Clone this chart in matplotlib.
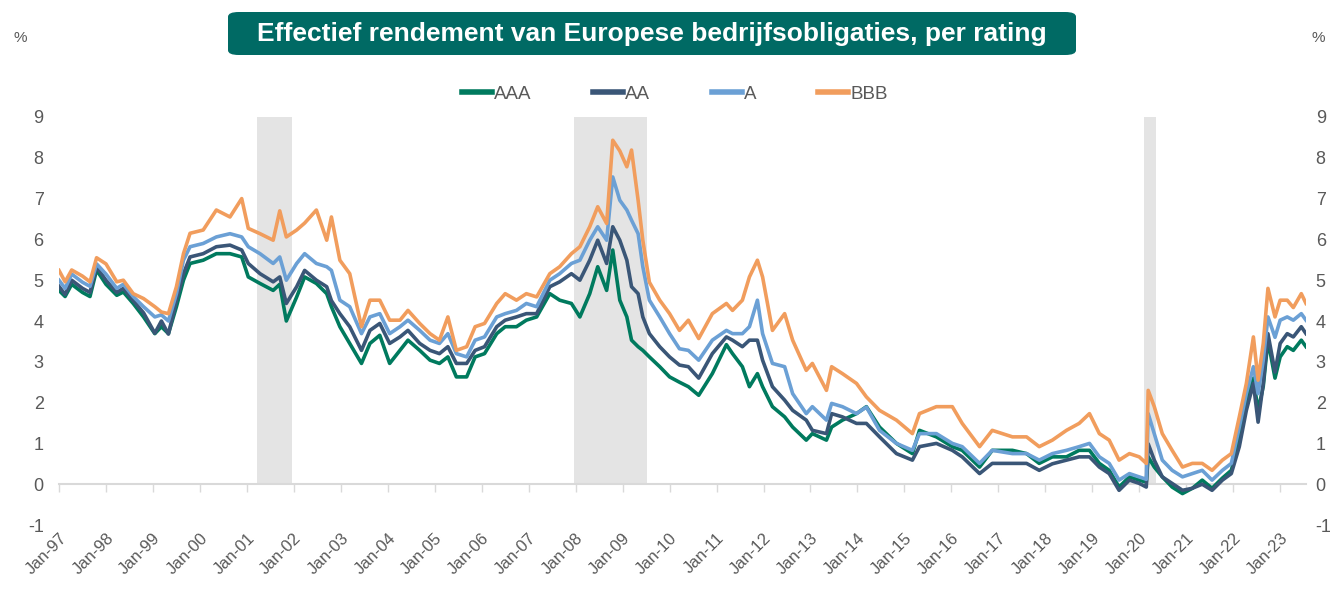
import matplotlib.pyplot as plt
from matplotlib.patches import FancyBboxPatch

plt.rcParams['font.family'] = ['Liberation Sans', 'DejaVu Sans']
plt.rcParams['axes.unicode_minus'] = False

# tijdas (decimale jaren) en rendementen per rating
jaren = [1997.00, 1997.13, 1997.27, 1997.50, 1997.66, 1997.80, 1998.00, 1998.23, 1998.37, 1998.58,
         1998.80, 1999.04, 1999.18, 1999.33, 1999.50, 1999.65, 1999.79, 2000.07, 2000.35, 2000.64,
         2000.89, 2001.03, 2001.28, 2001.56, 2001.70, 2001.84, 2002.06, 2002.23, 2002.48, 2002.70,
         2002.80, 2002.98, 2003.19, 2003.44, 2003.62, 2003.83, 2004.04, 2004.26, 2004.43, 2004.68,
         2004.90, 2005.10, 2005.28, 2005.46, 2005.68, 2005.86, 2006.06, 2006.32, 2006.50, 2006.74,
         2006.95, 2007.17, 2007.45, 2007.66, 2007.91, 2008.09, 2008.30, 2008.47, 2008.66, 2008.79,
         2008.94, 2009.09, 2009.19, 2009.33, 2009.43, 2009.57, 2009.79, 2010.00, 2010.21, 2010.40,
         2010.62, 2010.91, 2011.21, 2011.34, 2011.55, 2011.70, 2011.87, 2011.98, 2012.19, 2012.45,
         2012.62, 2012.91, 2013.04, 2013.34, 2013.45, 2013.68, 2013.98, 2014.19, 2014.47, 2014.83,
         2015.17, 2015.32, 2015.68, 2016.02, 2016.23, 2016.60, 2016.87, 2017.30, 2017.60, 2017.87,
         2018.15, 2018.45, 2018.72, 2018.94, 2019.15, 2019.36, 2019.57, 2019.79, 2020.00, 2020.15,
         2020.19, 2020.32, 2020.49, 2020.70, 2020.92, 2021.13, 2021.34, 2021.55, 2021.77, 2021.96,
         2022.13, 2022.28, 2022.43, 2022.53, 2022.64, 2022.74, 2022.89, 2023.00, 2023.15, 2023.28,
         2023.45, 2023.55]

aaa = [4.75, 4.60, 4.90, 4.70, 4.60, 5.25, 4.90, 4.63, 4.71, 4.43,
       4.10, 3.69, 3.86, 3.69, 4.35, 5.00, 5.41, 5.49, 5.65, 5.65,
       5.57, 5.08, 4.92, 4.75, 4.90, 4.00, 4.59, 5.08, 4.92, 4.67,
       4.35, 3.86, 3.45, 2.96, 3.45, 3.65, 2.96, 3.28, 3.53, 3.28,
       3.04, 2.96, 3.12, 2.63, 2.63, 3.12, 3.20, 3.69, 3.86, 3.86,
       4.02, 4.10, 4.67, 4.51, 4.43, 4.10, 4.67, 5.33, 4.75, 5.74,
       4.51, 4.10, 3.53, 3.37, 3.28, 3.12, 2.88, 2.63, 2.50, 2.39,
       2.18, 2.71, 3.42, 3.20, 2.88, 2.39, 2.71, 2.39, 1.90, 1.65,
       1.40, 1.08, 1.24, 1.08, 1.40, 1.57, 1.73, 1.90, 1.40, 1.00,
       0.75, 1.32, 1.16, 0.92, 0.83, 0.42, 0.83, 0.83, 0.75, 0.51,
       0.67, 0.67, 0.83, 0.83, 0.51, 0.34, -0.07, 0.18, 0.10, 0.05,
       0.67, 0.42, 0.18, -0.07, -0.23, -0.10, 0.10, -0.10, 0.15, 0.34,
       1.08, 2.06, 2.60, 1.80, 2.40, 3.53, 2.60, 3.12, 3.37, 3.28,
       3.53, 3.37]

aa = [4.85, 4.65, 5.00, 4.80, 4.70, 5.33, 5.00, 4.70, 4.80, 4.50,
      4.20, 3.70, 4.00, 3.68, 4.50, 5.16, 5.57, 5.65, 5.82, 5.86,
      5.74, 5.41, 5.16, 4.96, 5.08, 4.43, 4.84, 5.24, 5.00, 4.84,
      4.50, 4.18, 3.86, 3.28, 3.77, 3.94, 3.45, 3.61, 3.77, 3.45,
      3.28, 3.20, 3.37, 2.96, 2.96, 3.28, 3.37, 3.86, 4.02, 4.10,
      4.18, 4.18, 4.84, 4.96, 5.16, 5.00, 5.49, 5.98, 5.41, 6.31,
      5.98, 5.49, 4.84, 4.67, 4.10, 3.69, 3.37, 3.12, 2.92, 2.88,
      2.60, 3.20, 3.61, 3.53, 3.37, 3.53, 3.53, 3.04, 2.39, 2.06,
      1.81, 1.57, 1.32, 1.24, 1.73, 1.65, 1.49, 1.49, 1.16, 0.75,
      0.59, 0.92, 1.00, 0.83, 0.67, 0.26, 0.51, 0.51, 0.51, 0.34,
      0.50, 0.59, 0.67, 0.67, 0.42, 0.26, -0.15, 0.10, 0.02, -0.07,
      0.99, 0.59, 0.18, 0.02, -0.15, -0.10, 0.00, -0.15, 0.10, 0.26,
      0.92, 1.81, 2.47, 1.52, 2.47, 3.69, 2.75, 3.45, 3.69, 3.61,
      3.86, 3.69]

a = [5.00, 4.80, 5.15, 4.95, 4.85, 5.40, 5.15, 4.80, 4.90, 4.60,
     4.35, 4.10, 4.15, 4.00, 4.67, 5.49, 5.82, 5.90, 6.06, 6.14,
     6.06, 5.82, 5.65, 5.41, 5.57, 5.00, 5.41, 5.65, 5.41, 5.33,
     5.24, 4.51, 4.35, 3.69, 4.10, 4.18, 3.69, 3.86, 4.02, 3.77,
     3.53, 3.45, 3.69, 3.20, 3.12, 3.53, 3.61, 4.10, 4.18, 4.26,
     4.43, 4.35, 5.00, 5.16, 5.41, 5.49, 5.98, 6.31, 5.98, 7.53,
     6.96, 6.72, 6.47, 6.14, 5.33, 4.51, 4.10, 3.69, 3.32, 3.28,
     3.04, 3.53, 3.77, 3.69, 3.69, 3.86, 4.51, 3.69, 2.96, 2.88,
     2.22, 1.73, 1.90, 1.57, 1.98, 1.90, 1.73, 1.89, 1.32, 1.00,
     0.83, 1.24, 1.24, 1.00, 0.92, 0.51, 0.83, 0.75, 0.75, 0.59,
     0.75, 0.83, 0.92, 1.00, 0.67, 0.51, 0.10, 0.26, 0.18, 0.12,
     1.73, 1.24, 0.59, 0.34, 0.18, 0.26, 0.34, 0.10, 0.34, 0.51,
     1.40, 2.22, 2.88, 2.22, 3.04, 4.10, 3.60, 4.02, 4.10, 4.02,
     4.18, 4.02]

bbb = [5.24, 4.96, 5.25, 5.10, 4.96, 5.55, 5.40, 4.96, 5.00, 4.67,
       4.55, 4.35, 4.22, 4.18, 4.84, 5.65, 6.15, 6.23, 6.72, 6.55,
       7.00, 6.27, 6.14, 5.98, 6.70, 6.06, 6.23, 6.40, 6.72, 5.98,
       6.55, 5.49, 5.16, 3.86, 4.51, 4.51, 4.02, 4.02, 4.26, 3.94,
       3.69, 3.53, 4.10, 3.28, 3.37, 3.86, 3.94, 4.43, 4.67, 4.51,
       4.67, 4.59, 5.16, 5.33, 5.65, 5.82, 6.31, 6.80, 6.39, 8.43,
       8.17, 7.78, 8.19, 6.96, 5.98, 4.95, 4.51, 4.18, 3.77, 4.02,
       3.57, 4.18, 4.43, 4.26, 4.51, 5.08, 5.49, 5.08, 3.77, 4.18,
       3.53, 2.79, 2.96, 2.30, 2.88, 2.71, 2.47, 2.14, 1.81, 1.57,
       1.24, 1.73, 1.90, 1.90, 1.49, 0.92, 1.32, 1.16, 1.16, 0.92,
       1.08, 1.32, 1.49, 1.73, 1.24, 1.08, 0.59, 0.75, 0.67, 0.51,
       2.30, 1.90, 1.24, 0.83, 0.42, 0.51, 0.51, 0.34, 0.59, 0.75,
       1.65, 2.47, 3.61, 2.55, 3.45, 4.80, 4.10, 4.51, 4.51, 4.33,
       4.67, 4.43]

reeksen = ['AAA', 'AA', 'A', 'BBB']
kleuren = ['#007a5e', '#3a5677', '#6ba0d5', '#f19d5d']

# Amerikaanse recessies (grijze banden)
rec_start = [2001.21, 2007.96, 2020.10]
rec_eind = [2001.96, 2009.52, 2020.35]

grijs = '#595959'

fig = plt.figure(figsize=(13.39, 5.89), dpi=100)
ax = fig.add_axes([59/1339, 1 - 525/589, (1306-59)/1339, (525-117)/589])

for s, e in zip(rec_start, rec_eind):
    ax.axvspan(s, e, ymin=0.1, ymax=1.0, color='#e4e4e4', lw=0, zorder=0)

for naam, ys, kl in zip(reeksen, [aaa, aa, a, bbb], kleuren):
    ax.plot(jaren, ys, color=kl, lw=2.6, label=naam, solid_joinstyle='round', zorder=3)

ax.set_xlim(1997.0, 2023.55)
ax.set_ylim(-1, 9)
ax.set_yticks(range(-1, 10))
ax.tick_params(axis='y', length=0, labelsize=13, labelcolor=grijs, pad=11)

# rechter as met dezelfde schaal
ax2 = ax.twinx()
ax2.set_ylim(-1, 9)
ax2.set_yticks(range(-1, 10))
ax2.tick_params(axis='y', length=0, labelsize=13, labelcolor=grijs, pad=7)

xt = list(range(1997, 2024))
ax.set_xticks(xt)
ax.set_xticklabels(['Jan-%02d' % (j % 100) for j in xt], rotation=45, ha='right',
                   rotation_mode='anchor', fontsize=12, color=grijs)
ax.tick_params(axis='x', length=0, pad=4)
for sp in list(ax.spines.values()) + list(ax2.spines.values()):
    sp.set_visible(False)

# nullijn met jaarstreepjes
sec = ax.secondary_xaxis(0.1)
sec.set_xticks(xt)
sec.tick_params(length=6, width=1, color='#d9d9d9', labelbottom=False)
sec.spines['bottom'].set_color('#d9d9d9')
sec.spines['bottom'].set_linewidth(1.5)

# titel in groen kader
box = FancyBboxPatch((228/1339, 1 - 55/589), (1076-228)/1339, 43/589,
                     boxstyle='round,pad=0,rounding_size=0.008', transform=fig.transFigure,
                     facecolor='#006a64', edgecolor='none')
fig.patches.append(box)
fig.text(652/1339, 1 - 34/589, 'Effectief rendement van Europese bedrijfsobligaties, per rating',
         color='white', fontsize=19, fontweight='bold', ha='center', va='center')
fig.text(20/1339, 1 - 38/589, '%', color=grijs, fontsize=11, ha='center', va='center')
fig.text(1318/1339, 1 - 38/589, '%', color=grijs, fontsize=11, ha='center', va='center')

leg = fig.legend(loc='center', bbox_to_anchor=(675/1339, 1 - 94/589), ncol=4, frameon=False,
                 fontsize=13.5, handlelength=1.6, handletextpad=0.1, columnspacing=3.3)
for t in leg.get_texts():
    t.set_color(grijs)
for h in leg.get_lines():
    h.set_linewidth(4)

fig.savefig('out.png', dpi=100)
